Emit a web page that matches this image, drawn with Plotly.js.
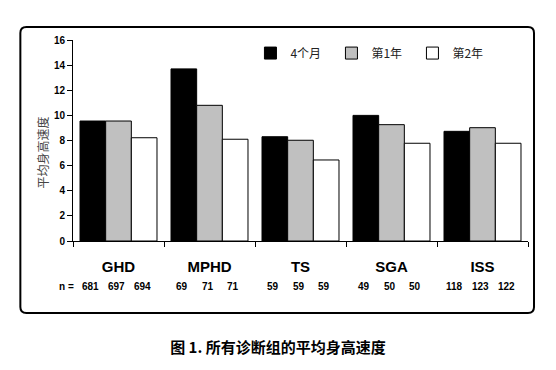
<!DOCTYPE html>
<html>
<head>
<meta charset="utf-8">
<script src="https://cdn.plot.ly/plotly-3.0.1.min.js"></script>
<style>
html,body{margin:0;padding:0;background:#fff;}
#chart{width:556px;height:370px;}
</style>
</head>
<body>
<div id="chart"></div>
<script>
// ---- data ----
const categories = ['GHD', 'MPHD', 'TS', 'SGA', 'ISS'];
const seriesNames = ['4个月', '第1年', '第2年'];
const month4 = [9.55, 13.7, 8.3, 10.0, 8.73];
const year1 = [9.55, 10.8, 8.02, 9.26, 9.02];
const year2 = [8.22, 8.1, 6.45, 7.78, 7.78];
const nMonth4 = [681, 69, 59, 49, 118];
const nYear1 = [697, 71, 59, 50, 123];
const nYear2 = [694, 71, 59, 50, 122];
const yTickVals = [0, 2, 4, 6, 8, 10, 12, 14, 16];
const yTitle = '平均身高速度';
const caption = '图 1. 所有诊断组的平均身高速度';
const nPrefix = 'n =';

// ---- styles / layout constants ----
const colors = ['#000000', '#c0c0c0', '#ffffff'];
const barOffsets = [-0.282, 0, 0.282];
const latin = 'Liberation Sans, Arial, sans-serif';
const cjk = 'Noto Sans CJK SC, sans-serif';

const seriesValues = [month4, year1, year2];
const seriesN = [nMonth4, nYear1, nYear2];

const traces = seriesValues.map((vals, i) => ({
  type: 'bar',
  name: seriesNames[i],
  x: categories,
  y: vals,
  marker: {color: colors[i], line: {color: '#000', width: 1}},
  hoverinfo: 'skip'
}));

const annotations = [];
// y title
annotations.push({
  text: yTitle, xref: 'paper', yref: 'paper', x: -0.068, y: 0.44,
  textangle: -90, showarrow: false, xanchor: 'center', yanchor: 'middle',
  font: {family: cjk, size: 12, color: '#444'}
});
// n prefix
annotations.push({
  text: nPrefix, xref: 'x', yref: 'y', x: -0.464, y: 0, xanchor: 'right', yanchor: 'middle',
  yshift: -45.5, showarrow: false,
  font: {family: latin, size: 10, color: '#000', weight: 'bold'}
});
// n labels
seriesN.forEach((arr, s) => {
  arr.forEach((n, c) => {
    annotations.push({
      text: String(n), xref: 'x', yref: 'y', x: c + barOffsets[s], y: 0,
      xanchor: 'center', yanchor: 'middle', yshift: -45.5, xshift: -2, showarrow: false,
      font: {family: latin, size: 10, color: '#000', weight: 'bold'}
    });
  });
});

const layout = {
  width: 556, height: 370,
  margin: {l: 72.7, r: 28, t: 40, b: 129, pad: 0},
  paper_bgcolor: '#fff', plot_bgcolor: '#fff',
  barmode: 'group', bargap: 0.154, bargroupgap: 0,
  showlegend: true,
  legend: {
    orientation: 'h', x: 0.39, xanchor: 'left', y: 0.935, yanchor: 'middle',
    font: {family: cjk, size: 12, color: '#222'},
    entrywidth: 36, entrywidthmode: 'pixels', bgcolor: 'rgba(0,0,0,0)', traceorder: 'normal'
  },
  title: {
    text: caption, x: 0.5, xref: 'container', xanchor: 'center', y: 0.061, yref: 'container', yanchor: 'middle',
    font: {family: cjk, size: 15, color: '#000', weight: 'bold'}
  },
  xaxis: {
    type: 'category', tickson: 'boundaries', ticks: 'outside', ticklen: 5, tickcolor: '#000', tickwidth: 1,
    showline: true, linecolor: '#000', linewidth: 1, showgrid: false, zeroline: false,
    tickfont: {family: latin, size: 15, color: '#000', weight: 'bold'}, ticklabelstandoff: 12,
    range: [-0.5, 4.5], fixedrange: true
  },
  yaxis: {
    range: [0, 16], tickvals: yTickVals, ticks: 'outside', ticklen: 5, tickcolor: '#000', tickwidth: 1,
    showline: true, linecolor: '#000', linewidth: 1, showgrid: false, zeroline: false,
    tickfont: {family: latin, size: 10, color: '#000', weight: 'bold'}, fixedrange: true
  },
  annotations: annotations,
  shapes: [(function () {
    const x0 = -0.1157, x1 = 1.0132, y0 = -0.358, y1 = 1.0647;
    const rx = 0.0132, ry = 0.03;
    const p = `M ${x0 + rx} ${y1} L ${x1 - rx} ${y1} Q ${x1} ${y1} ${x1} ${y1 - ry} ` +
      `L ${x1} ${y0 + ry} Q ${x1} ${y0} ${x1 - rx} ${y0} L ${x0 + rx} ${y0} Q ${x0} ${y0} ${x0} ${y0 + ry} ` +
      `L ${x0} ${y1 - ry} Q ${x0} ${y1} ${x0 + rx} ${y1} Z`;
    return {type: 'path', xref: 'paper', yref: 'paper', path: p, line: {color: '#000', width: 2}, layer: 'below'};
  })()]
};

Plotly.newPlot('chart', traces, layout, {displayModeBar: false, staticPlot: true});
</script>
</body>
</html>
